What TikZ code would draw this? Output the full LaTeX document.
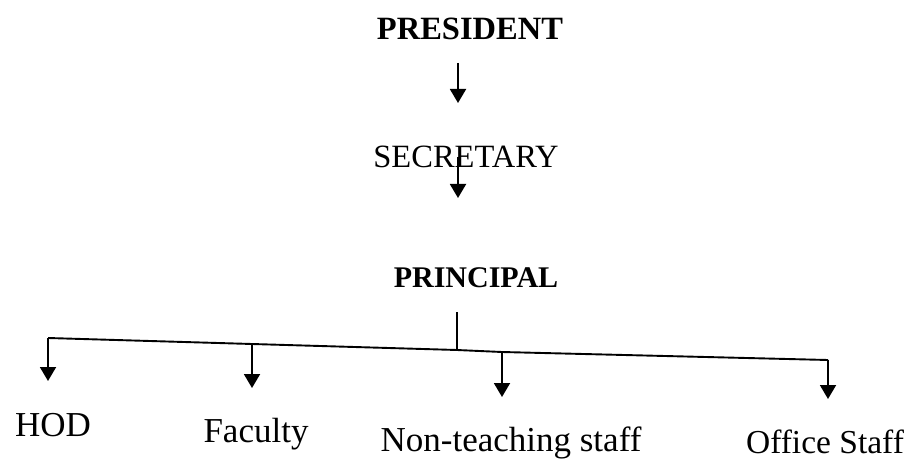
\documentclass[tikz,border=0pt]{standalone}
\usepackage{fontspec}
\setmainfont{Liberation Serif}
\usetikzlibrary{arrows.meta}
\begin{document}
\begin{tikzpicture}[x=1pt,y=-1pt,
  title/.style={font=\fontsize{32.5}{38}\selectfont\bfseries, inner sep=0pt, anchor=base},
  chief/.style={font=\fontsize{30}{36}\selectfont\bfseries, inner sep=0pt, anchor=base},
  role/.style={font=\fontsize{32.5}{38}\selectfont, inner sep=0pt, anchor=base},
  dept/.style={font=\fontsize{35}{40}\selectfont, inner sep=0pt, anchor=base},
  link/.style={line width=1.9pt, -{Triangle[width=16pt,length=14pt]}},
  bar/.style={line width=1.9pt}]
\useasboundingbox (0,0) rectangle (912,462);

% chain of command
\node[title] (president) at (470,40) {PRESIDENT};
\node[role]  (secretary) at (466,168) {SECRETARY};
\node[chief] (principal) at (476,287) {PRINCIPAL};

\coordinate (a1s) at (458,63);
\coordinate (a1e) at (458,103);
\coordinate (a2s) at (458,157);
\coordinate (a2e) at (458,198);
\draw[link] (a1s) -- (a1e);
\draw[link] (a2s) -- (a2e);

% distribution bar below the principal
\coordinate (stem) at (457,312);
\coordinate (jmid) at (457,350);
\coordinate (jhod) at (48,338);
\coordinate (jfac) at (252,344);
\coordinate (jnon) at (502,352);
\coordinate (joff) at (828,360);
\draw[bar] (stem) -- (jmid);
\draw[bar, line join=round] (jhod) -- (jfac) -- (jmid) -- (jnon) -- (joff);

% departments
\node[dept] (hod)      at (53,436)  {HOD};
\node[dept] (faculty)  at (256,442) {Faculty};
\node[dept] (nonteach) at (511,451) {Non-teaching staff};
\node[dept, font=\fontsize{33.5}{38}\selectfont] (office) at (825,453) {Office Staff};

\coordinate (thod) at (48,381);
\coordinate (tfac) at (252,388);
\coordinate (tnon) at (502,397);
\coordinate (toff) at (828,399);
\draw[link] (jhod) -- (thod);
\draw[link] (jfac) -- (tfac);
\draw[link] (jnon) -- (tnon);
\draw[link] (joff) -- (toff);
\end{tikzpicture}
\end{document}
